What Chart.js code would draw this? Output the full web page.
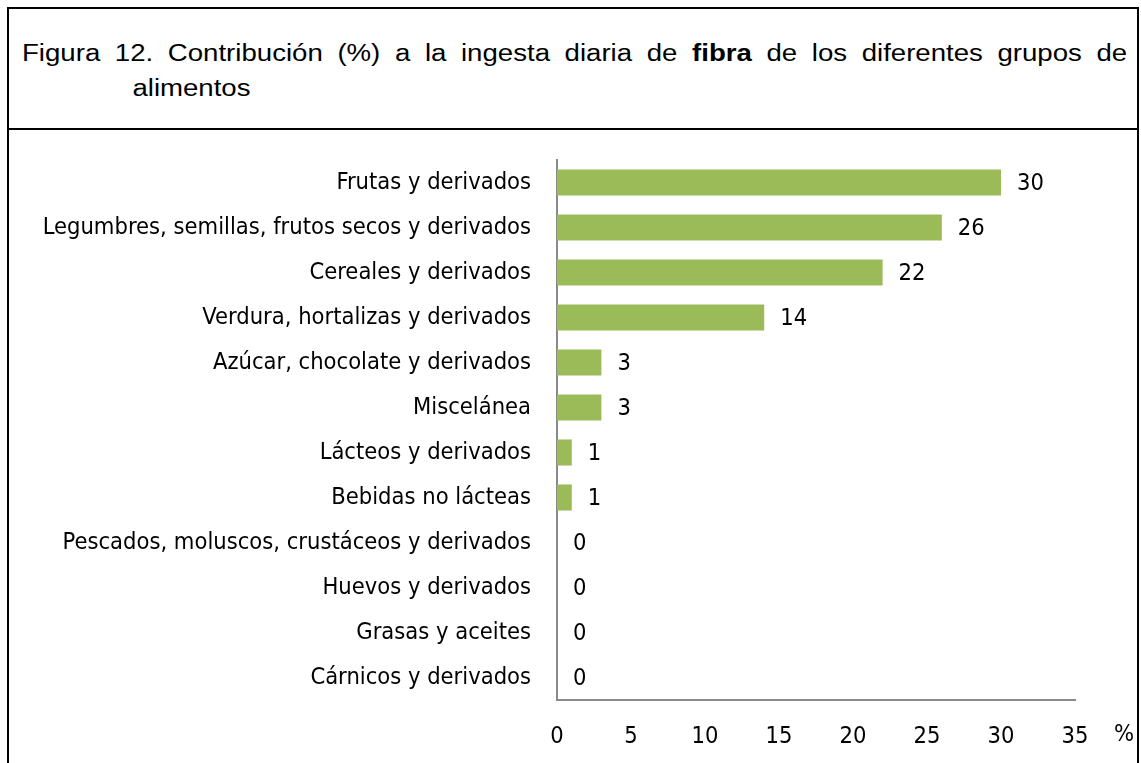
<!DOCTYPE html>
<html>
<head>
<meta charset="utf-8">
<script src="https://cdn.jsdelivr.net/npm/chart.js@4"></script>
<style>
  body { margin: 0; background: #fff; }
  #frame { position: absolute; left: 7px; top: 7px; width: 1128px; height: 800px;
           border: 2px solid #000; border-bottom: none; }
  #title { border-bottom: 2px solid #000; height: 119px; overflow: hidden; }
  #titletext { width: 921px; margin-left: 13px; padding-top: 27px;
               transform: scaleX(1.2); transform-origin: left top;
               font-family: 'Liberation Sans', Arial, sans-serif; font-size: 23px; line-height: 35px; color: #000; }
  #line1 { text-align: justify; text-align-last: justify; }
  #line2 { padding-left: 92px; }
  #wrap { position: absolute; left: 9px; top: 130px; width: 1128px; height: 633px; }
  #pct { position: absolute; left: 1114px; top: 719px;
         font-family: 'Liberation Sans Narrow', 'DejaVu Sans Condensed', Roboto, sans-serif;
         font-size: 23.5px; color: #000; }
</style>
</head>
<body>
<div id="frame">
  <div id="title">
    <div id="titletext">
      <div id="line1">Figura 12. Contribución (%) a la ingesta diaria de <b>fibra</b> de los diferentes grupos de</div>
      <div id="line2">alimentos</div>
    </div>
  </div>
</div>
<div id="wrap"><canvas id="chart1" width="1128" height="633"></canvas></div>
<div id="pct">%</div>
<script>
// food groups, top to bottom
const categories = [
  'Frutas y derivados',
  'Legumbres, semillas, frutos secos y derivados',
  'Cereales y derivados',
  'Verdura, hortalizas y derivados',
  'Azúcar, chocolate y derivados',
  'Miscelánea',
  'Lácteos y derivados',
  'Bebidas no lácteas',
  'Pescados, moluscos, crustáceos y derivados',
  'Huevos y derivados',
  'Grasas y aceites',
  'Cárnicos y derivados'
];

// contribution (%) to daily fibre intake
const fibra = [30, 26, 22, 14, 3, 3, 1, 1, 0, 0, 0, 0];

// x axis ticks
const xMin = 0;
const xMax = 35;
const xStep = 5;

const labelFont = { family: "'Liberation Sans Narrow', 'DejaVu Sans Condensed', Roboto, sans-serif", size: 23.5 };

// writes the value next to each bar
const valueLabels = {
  id: 'valueLabels',
  afterDatasetsDraw(chart) {
    const ctx = chart.ctx;
    const meta = chart.getDatasetMeta(0);
    ctx.save();
    ctx.font = labelFont.size + 'px ' + labelFont.family;
    ctx.fillStyle = '#000';
    ctx.textAlign = 'left';
    ctx.textBaseline = 'middle';
    meta.data.forEach(function (bar, i) {
      ctx.fillText(String(fibra[i]), bar.x + 16, bar.y + 1);
    });
    ctx.restore();
  }
};

const data = {
  labels: categories,
  datasets: [{
    data: fibra,
    backgroundColor: '#9bbb59',
    borderWidth: 0,
    barPercentage: 0.58,
    categoryPercentage: 1
  }]
};

const config = {
  type: 'bar',
  data: data,
  plugins: [valueLabels],
  options: {
    indexAxis: 'y',
    responsive: false,
    animation: false,
    devicePixelRatio: 1,
    layout: { padding: { left: 0, right: 62, top: 30, bottom: 0 } },
    plugins: { legend: { display: false }, tooltip: { enabled: false } },
    scales: {
      x: {
        min: xMin,
        max: xMax,
        grid: { display: false, drawTicks: false },
        border: { display: true, color: '#8a8a8a', width: 2 },
        ticks: { stepSize: xStep, padding: 23, color: '#000', font: labelFont },
        afterFit: function (scale) { scale.height = 63; }
      },
      y: {
        grid: { display: false, drawTicks: false },
        border: { display: true, color: '#8a8a8a', width: 2 },
        ticks: { padding: 26, color: '#000', font: labelFont, autoSkip: false },
        afterFit: function (scale) {
          scale.width = 548;
          scale.paddingTop = 0;
          scale.paddingBottom = 0;
        }
      }
    }
  }
};

const myChart = new Chart(document.getElementById('chart1'), config);
</script>
</body>
</html>
